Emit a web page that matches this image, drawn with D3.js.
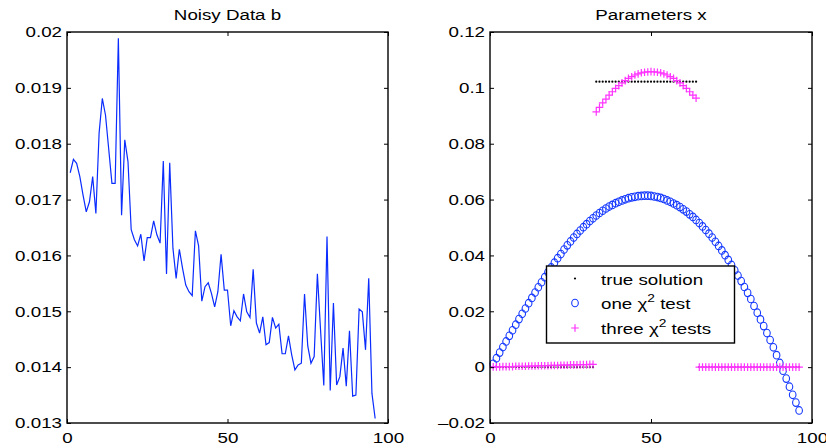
<!DOCTYPE html>
<html>
<head>
<meta charset="utf-8">
<script src="https://cdn.jsdelivr.net/npm/d3@7"></script>
<style>
  body { margin: 0; background: #fff; }
  text { font-family: "Liberation Sans", Arial, sans-serif; font-size: 15px; fill: #000; }
</style>
</head>
<body>
<div id="chart"></div>
<script>
// Noisy data b (left panel), one value per index 1..96
const noisyData = [
  0.01748, 0.01772, 0.01765, 0.01741, 0.01708, 0.01678, 0.01696, 0.01741, 0.01675, 0.01819,
  0.01881, 0.01851, 0.01790, 0.01729, 0.01729, 0.01989, 0.01672, 0.01807, 0.01768, 0.01646,
  0.01628, 0.01617, 0.01638, 0.01590, 0.01632, 0.01632, 0.01662, 0.01637, 0.01622, 0.01769,
  0.01567, 0.01766, 0.01613, 0.01559, 0.01611, 0.01577, 0.01547, 0.01535, 0.01528, 0.01644,
  0.01617, 0.01518, 0.01544, 0.01551, 0.01532, 0.01508, 0.01535, 0.01602, 0.01538, 0.01538,
  0.01474, 0.01501, 0.01490, 0.01483, 0.01531, 0.01499, 0.01489, 0.01575, 0.01479, 0.01461,
  0.01490, 0.01440, 0.01444, 0.01489, 0.01470, 0.01477, 0.01424, 0.01424, 0.01456, 0.01422,
  0.01395, 0.01404, 0.01407, 0.01531, 0.01438, 0.01407, 0.01419, 0.01567, 0.01465, 0.01367,
  0.01634, 0.01358, 0.01515, 0.01368, 0.01383, 0.01434, 0.01366, 0.01465, 0.01348, 0.01350,
  0.01504, 0.01499, 0.01431, 0.01559, 0.01353, 0.01308
];

// Parameters x (right panel)
const trueSolution = [
  0, 0, 0, 0, 0, 0, 0, 0, 0, 0, 0, 0, 0, 0, 0, 0,
  0, 0, 0, 0, 0, 0, 0, 0, 0, 0, 0, 0, 0, 0, 0, 0,
  0.1022, 0.1022, 0.1022, 0.1022, 0.1022, 0.1022, 0.1022, 0.1022,
  0.1022, 0.1022, 0.1022, 0.1022, 0.1022, 0.1022, 0.1022, 0.1022,
  0.1022, 0.1022, 0.1022, 0.1022, 0.1022, 0.1022, 0.1022, 0.1022,
  0.1022, 0.1022, 0.1022, 0.1022, 0.1022, 0.1022, 0.1022, 0.1022,
  0, 0, 0, 0, 0, 0, 0, 0, 0, 0, 0, 0, 0, 0, 0, 0,
  0, 0, 0, 0, 0, 0, 0, 0, 0, 0, 0, 0, 0, 0, 0, 0
];

const oneChi2 = [
  0.0012, 0.0032, 0.0052, 0.0072, 0.0092, 0.0112, 0.0132, 0.0152, 0.0172, 0.0191,
  0.0210, 0.0229, 0.0248, 0.0267, 0.0286, 0.0304, 0.0322, 0.0340, 0.0357, 0.0374,
  0.0390, 0.0405, 0.0421, 0.0436, 0.0450, 0.0464, 0.0477, 0.0489, 0.0501, 0.0512,
  0.0523, 0.0533, 0.0543, 0.0552, 0.0560, 0.0568, 0.0575, 0.0581, 0.0587, 0.0592,
  0.0597, 0.0601, 0.0605, 0.0608, 0.0610, 0.0612, 0.0613, 0.0614, 0.0614, 0.0613,
  0.0611, 0.0609, 0.0606, 0.0602, 0.0597, 0.0592, 0.0586, 0.0580, 0.0573, 0.0565,
  0.0557, 0.0547, 0.0538, 0.0527, 0.0516, 0.0504, 0.0491, 0.0478, 0.0464, 0.0449,
  0.0434, 0.0418, 0.0401, 0.0384, 0.0366, 0.0347, 0.0328, 0.0308, 0.0287, 0.0266,
  0.0244, 0.0219, 0.0195, 0.0171, 0.0147, 0.0122, 0.0097, 0.0071, 0.0043, 0.0015,
  -0.0013, -0.0041, -0.0070, -0.0099, -0.0127, -0.0155
];

const threeChi2 = [
  0.0001, 0.0001, 0.0001, 0.0002, 0.0002, 0.0002, 0.0002, 0.0003, 0.0003, 0.0003,
  0.0003, 0.0004, 0.0004, 0.0004, 0.0005, 0.0005, 0.0005, 0.0005, 0.0006, 0.0006,
  0.0006, 0.0007, 0.0007, 0.0007, 0.0008, 0.0008, 0.0008, 0.0009, 0.0009, 0.0009,
  0.0010, 0.0010,
  0.0914, 0.0930, 0.0946, 0.0960, 0.0974, 0.0986, 0.0998, 0.1008, 0.1018, 0.1026,
  0.1034, 0.1040, 0.1046, 0.1050, 0.1054, 0.1056, 0.1057, 0.1058, 0.1057, 0.1056,
  0.1054, 0.1050, 0.1046, 0.1040, 0.1034, 0.1026, 0.1018, 0.1008, 0.0998, 0.0986,
  0.0974, 0.0963,
  0, 0, 0, 0, 0, 0, 0, 0, 0, 0, 0, 0, 0, 0, 0, 0,
  0, 0, 0, 0, 0, 0, 0, 0, 0, 0, 0, 0, 0, 0, 0, 0
];

// tick values and labels
const xTicks = [0, 50, 100];
const xTickLabels = ["0", "50", "100"];
const leftYTicks = [0.013, 0.014, 0.015, 0.016, 0.017, 0.018, 0.019, 0.02];
const leftYTickLabels = ["0.013", "0.014", "0.015", "0.016", "0.017", "0.018", "0.019", "0.02"];
const rightYTicks = [-0.02, 0, 0.02, 0.04, 0.06, 0.08, 0.1, 0.12];
const rightYTickLabels = ["\u20130.02", "0", "0.02", "0.04", "0.06", "0.08", "0.1", "0.12"];

const titles = ["Noisy Data b", "Parameters x"];

const width = 826, height = 448;
const svg = d3.select("#chart").append("svg")
    .attr("width", width)
    .attr("height", height);

const idx = noisyData.map((d, i) => i + 1);

// helper: text stretched horizontally like the original figure
function stretchText(g, x, y, str, anchor) {
  return g.append("text")
      .attr("transform", `translate(${x},${y}) scale(1.25,1)`)
      .attr("text-anchor", anchor)
      .text(str);
}

// builds one panel's frame (box, inner ticks, labels, title)
function drawFrame(x, y, yTicks, yLabels, title) {
  const g = svg.append("g");
  const [x0, x1] = x.range();
  const [y0, y1] = y.range();

  const inner = (axis, tr) => g.append("g")
      .attr("transform", tr)
      .call(axis)
      .call(s => s.select(".domain").remove())
      .call(s => s.selectAll("line").attr("stroke", "#000").attr("stroke-width", 1));

  const yl = inner(d3.axisLeft(y).tickValues(yTicks).tickSize(-4)
      .tickPadding(4).tickFormat((d, i) => yLabels[i]), `translate(${x0},0)`);
  inner(d3.axisRight(y).tickValues(yTicks).tickSize(-4).tickFormat(""), `translate(${x1},0)`);
  const xb = inner(d3.axisBottom(x).tickValues(xTicks).tickSize(-4)
      .tickPadding(9).tickFormat((d, i) => xTickLabels[i]), `translate(0,${y0})`);
  inner(d3.axisTop(x).tickValues(xTicks).tickSize(-4).tickFormat(""), `translate(0,${y1})`);

  g.selectAll(".tick text")
      .attr("fill", "#000")
      .style("font-size", "15px")
      .style("font-family", "'Liberation Sans', Arial, sans-serif");
  yl.selectAll("text").attr("transform", "scale(1.25,1)");
  xb.selectAll("text").attr("transform", "scale(1.25,1)");

  g.append("rect")
      .attr("x", x0).attr("y", y1)
      .attr("width", x1 - x0).attr("height", y0 - y1)
      .attr("fill", "none").attr("stroke", "#000").attr("stroke-width", 1.4);

  stretchText(g, (x0 + x1) / 2, 20, title, "middle");
  return g;
}

// ---- left panel: Noisy Data b ----
const xL = d3.scaleLinear().domain([0, 100]).range([67, 388]);
const yL = d3.scaleLinear().domain([0.013, 0.02]).range([423, 32]);

svg.append("path")
    .datum(noisyData)
    .attr("fill", "none")
    .attr("stroke", "#0a2cff")
    .attr("stroke-width", 1.2)
    .attr("d", d3.line().x((d, i) => xL(idx[i])).y(d => yL(d)));

drawFrame(xL, yL, leftYTicks, leftYTickLabels, titles[0]);

// ---- right panel: Parameters x ----
const xR = d3.scaleLinear().domain([0, 100]).range([490, 812]);
const yR = d3.scaleLinear().domain([-0.02, 0.12]).range([423, 32]);

const plotR = svg.append("g");

plotR.selectAll("circle.truth")
    .data(trueSolution)
    .enter().append("circle")
    .attr("class", "truth")
    .attr("cx", (d, i) => xR(idx[i]))
    .attr("cy", d => yR(d))
    .attr("r", 1.1)
    .attr("fill", "#000");

plotR.selectAll("ellipse.one")
    .data(oneChi2)
    .enter().append("ellipse")
    .attr("class", "one")
    .attr("cx", (d, i) => xR(idx[i]))
    .attr("cy", d => yR(d))
    .attr("rx", 3.3)
    .attr("ry", 3.8)
    .attr("fill", "none")
    .attr("stroke", "#1438ff")
    .attr("stroke-width", 1.1);

function plusPath(s) {
  return `M${-s},0H${s}M0,${-s}V${s}`;
}

plotR.selectAll("path.three")
    .data(threeChi2)
    .enter().append("path")
    .attr("class", "three")
    .attr("transform", (d, i) => `translate(${xR(idx[i])},${yR(d)})`)
    .attr("d", plusPath(3.8))
    .attr("stroke", "#ff33ff")
    .attr("stroke-width", 1.2);

drawFrame(xR, yR, rightYTicks, rightYTickLabels, titles[1]);

// ---- legend ----
const legend = svg.append("g");
legend.append("rect")
    .attr("x", 546.5).attr("y", 266)
    .attr("width", 188).attr("height", 77)
    .attr("fill", "#fff").attr("stroke", "#000").attr("stroke-width", 1.4);

const legendRows = [278.5, 303, 328];
legend.append("circle").attr("cx", 575).attr("cy", legendRows[0]).attr("r", 1.1).attr("fill", "#000");
legend.append("ellipse").attr("cx", 575).attr("cy", legendRows[1])
    .attr("rx", 3.3).attr("ry", 3.8).attr("fill", "none")
    .attr("stroke", "#1438ff").attr("stroke-width", 1.1);
legend.append("path").attr("transform", `translate(575,${legendRows[2]})`)
    .attr("d", plusPath(3.8)).attr("stroke", "#ff33ff").attr("stroke-width", 1.2);

stretchText(legend, 601, legendRows[0] + 6, "true solution", "start");

function chiLabel(y, pre, post) {
  const t = stretchText(legend, 601, y + 6, "", "start");
  t.append("tspan").text(pre + "\u03c7");
  t.append("tspan").attr("dy", -7).style("font-size", "11px").text("2");
  t.append("tspan").attr("dy", 7).text(" " + post);
}
chiLabel(legendRows[1], "one ", "test");
chiLabel(legendRows[2], "three ", "tests");
</script>
</body>
</html>
